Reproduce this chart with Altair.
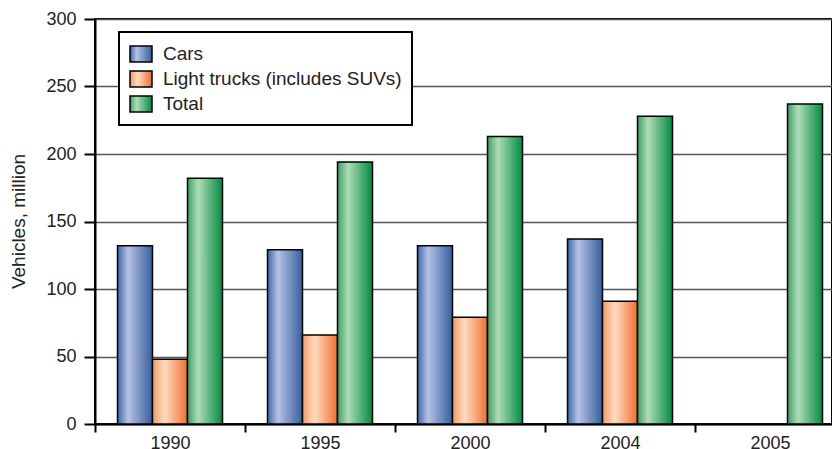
import altair as alt
import pandas as pd

years = ["1990", "1995", "2000", "2004", "2005"]
series = ["Cars", "Light trucks (includes SUVs)", "Total"]
cars = [132, 129, 132, 137, None]
trucks = [48, 66, 79, 91, None]
total = [182, 194, 213, 228, 237]

rows = []
for i, y in enumerate(years):
    for s, vals in zip(series, [cars, trucks, total]):
        if vals[i] is not None:
            rows.append({"year": y, "series": s, "value": vals[i]})
df = pd.DataFrame(rows)


def grad(c0, pos, c1, c2):
    return {"expr": "{gradient:'linear',x1:0,y1:0,x2:1,y2:0,stops:["
            "{offset:0,color:'%s'},{offset:%s,color:'%s'},{offset:1,color:'%s'}]}"
            % (c0, pos, c1, c2)}


FONT = "Liberation Sans"
TXT = "#222222"

fill_range = [
    grad("#3a68a6", 0.3, "#b6c2e6", "#345f9c"),
    grad("#f39a62", 0.35, "#fedcc0", "#f06e2e"),
    grad("#3c9f62", 0.3, "#b0dcb8", "#008b40"),
]

chart = alt.Chart(df).mark_bar(stroke="black", strokeWidth=1.5).encode(
    x=alt.X(
        "year:N", sort=years,
        scale=alt.Scale(range=[0, 750], paddingInner=0, paddingOuter=0),
        axis=alt.Axis(title=None, labelAngle=0, tickBand="extent", tickSize=8,
                      tickWidth=2, tickColor="black", domainColor="black",
                      domainWidth=2, labelFont=FONT, labelFontSize=18,
                      labelColor=TXT, labelPadding=2, grid=False),
    ),
    xOffset=alt.XOffset("series:N", sort=series,
                        scale=alt.Scale(paddingInner=0, paddingOuter=0.642857)),
    y=alt.Y(
        "value:Q", scale=alt.Scale(domain=[0, 300]),
        axis=alt.Axis(values=[0, 50, 100, 150, 200, 250, 300],
                      title="Vehicles, million", titleFont=FONT,
                      titleFontSize=19, titleFontWeight="normal",
                      titleColor=TXT, titleAngle=270, titleX=-76.5,
                      titleY=202, titleAlign="center",
                      titleBaseline="middle", tickSize=11, tickWidth=2,
                      tickColor="black", domainColor="black", domainWidth=2,
                      labelFont=FONT, labelFontSize=18, labelColor=TXT,
                      labelPadding=8, gridColor="#555555", gridWidth=1.5),
    ),
    fill=alt.Fill(
        "series:N", sort=series,
        scale=alt.Scale(domain=series, range=fill_range),
        legend=alt.Legend(orient="none", legendX=24, legendY=13, title=None,
                          symbolType="M-1,-0.727H1V0.727H-1Z", symbolSize=484,
                          symbolStrokeColor="black", symbolStrokeWidth=1.5,
                          symbolOpacity=1, labelFont=FONT, labelFontSize=19,
                          labelColor=TXT, labelOffset=10, labelLimit=0,
                          rowPadding=2, padding=10, fillColor="white",
                          strokeColor="black"),
    ),
).properties(
    width=737, height=405, autosize="none",
    padding={"left": 87, "top": 11, "right": 0, "bottom": 25},
).configure_view(
    stroke="black", strokeWidth=2
).configure_legend(
    strokeWidth=2
)

chart.save("out.html", embed_options={"renderer": "svg", "actions": False})
